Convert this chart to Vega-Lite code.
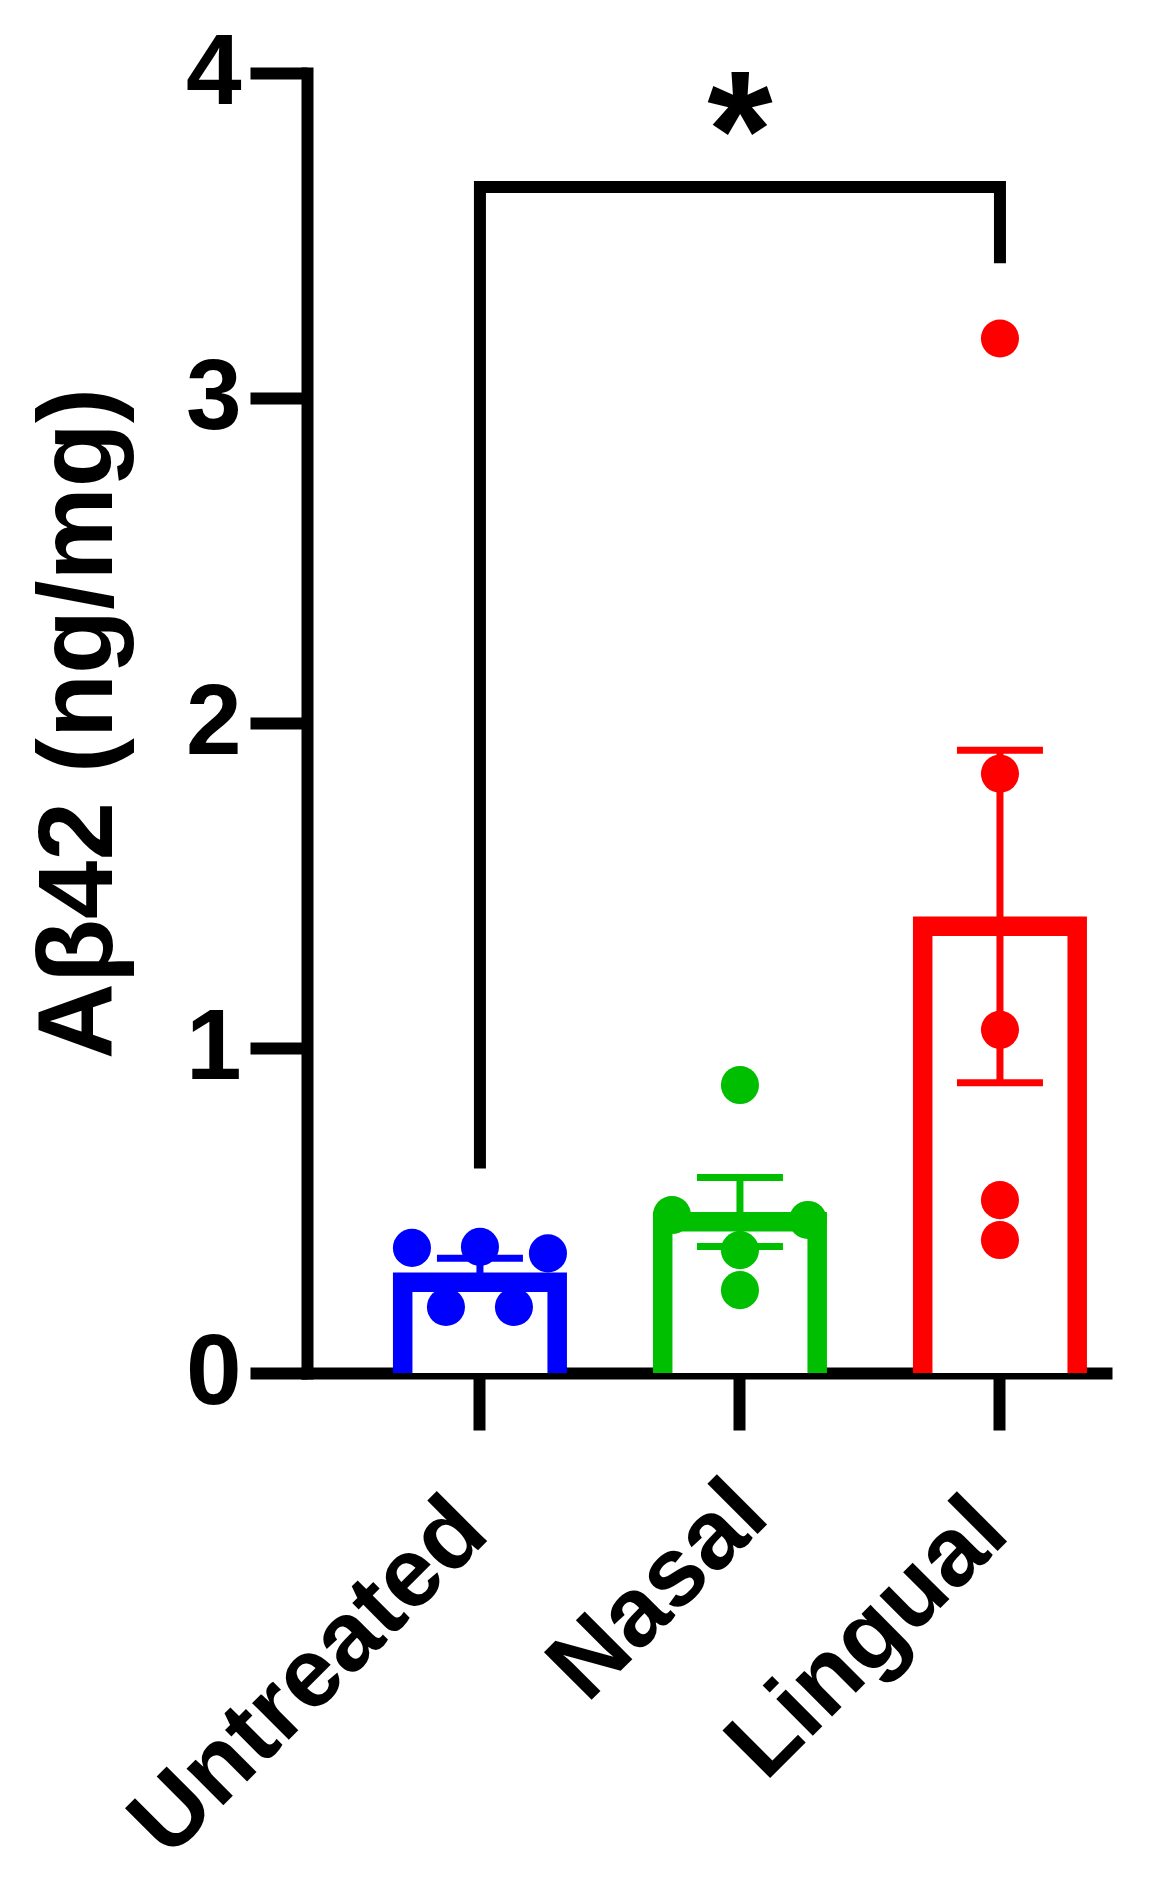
{
  "$schema": "https://vega.github.io/schema/vega-lite/v6.json",
  "width": 799,
  "height": 1300,
  "autosize": {"type": "none"},
  "padding": {"left": 307, "top": 73, "right": 54, "bottom": 519},
  "background": "white",
  "config": {
    "view": {"stroke": null},
    "font": "Liberation Sans",
    "axis": {
      "domainColor": "black",
      "domainWidth": 12,
      "domainCap": "square",
      "tickColor": "black",
      "tickWidth": 12,
      "tickSize": 57,
      "tickCap": "butt",
      "grid": false,
      "labelFont": "Liberation Sans",
      "labelFontWeight": "bold",
      "labelColor": "black",
      "titleFont": "Liberation Sans",
      "titleFontWeight": "bold",
      "titleColor": "black",
      "zindex": 1
    }
  },
  "datasets": {
    "mice": [
      {"group": "Untreated", "value": 0.385, "col": -2},
      {"group": "Untreated", "value": 0.388, "col": 0},
      {"group": "Untreated", "value": 0.368, "col": 2},
      {"group": "Untreated", "value": 0.203, "col": -1},
      {"group": "Untreated", "value": 0.203, "col": 1},
      {"group": "Nasal", "value": 0.886, "col": 0},
      {"group": "Nasal", "value": 0.486, "col": -2},
      {"group": "Nasal", "value": 0.471, "col": 2},
      {"group": "Nasal", "value": 0.378, "col": 0},
      {"group": "Nasal", "value": 0.255, "col": 0},
      {"group": "Lingual", "value": 3.183, "col": 0},
      {"group": "Lingual", "value": 1.844, "col": 0},
      {"group": "Lingual", "value": 1.056, "col": 0},
      {"group": "Lingual", "value": 0.532, "col": 0},
      {"group": "Lingual", "value": 0.409, "col": 0}
    ],
    "bracket": [
      {"group": "Untreated", "value": 0.629, "k": 1},
      {"group": "Untreated", "value": 3.649, "k": 2},
      {"group": "Lingual", "value": 3.649, "k": 3},
      {"group": "Lingual", "value": 3.415, "k": 4}
    ],
    "star": [
      {"group": "Nasal", "value": 3.645, "label": "*"}
    ]
  },
  "encoding": {
    "x": {
      "field": "group",
      "type": "nominal",
      "title": null,
      "scale": {
        "domain": ["Untreated", "Nasal", "Lingual"],
        "paddingInner": 0.4,
        "paddingOuter": 0.2365,
        "align": 0.772
      },
      "axis": {
        "labelAngle": -45,
        "labelAlign": "right",
        "labelBaseline": "alphabetic",
        "labelFontSize": 98,
        "labelLimit": 0,
        "labelOverlap": false,
        "labelPadding": {"condition": {"test": "datum.value === 'Nasal'", "value": 89}, "value": 106},
        "labelOffset": {"condition": {"test": "datum.value === 'Nasal'", "value": 32}, "value": 12}
      }
    }
  },
  "layer": [
    {
      "data": {"name": "mice"},
      "mark": {"type": "bar", "width": 174},
      "encoding": {
        "y": {
          "aggregate": "mean",
          "field": "value",
          "type": "quantitative",
          "title": "Aβ42 (ng/mg)",
          "scale": {"domain": [0, 4], "nice": false, "zero": true},
          "axis": {
            "values": [0, 1, 2, 3, 4],
            "format": "d",
            "labelFontSize": 100,
            "labelPadding": 9,
            "labelFlush": false,
            "titleFontSize": 105,
            "titlePadding": 52
          }
        },
        "color": {
          "field": "group",
          "type": "nominal",
          "legend": null,
          "scale": {"domain": ["Untreated", "Nasal", "Lingual"], "range": ["#0000FF", "#00BE00", "#FF0000"]}
        }
      }
    },
    {
      "data": {"name": "mice"},
      "mark": {"type": "bar", "width": 135, "yOffset": 19.5, "color": "white"},
      "encoding": {
        "y": {
          "aggregate": "mean",
          "field": "value",
          "type": "quantitative",
          "title": "Aβ42 (ng/mg)",
          "scale": {"domain": [0, 4], "nice": false, "zero": true}
        }
      }
    },
    {
      "data": {"name": "mice"},
      "mark": {"type": "point", "filled": true, "shape": "circle", "size": 1450, "opacity": 1},
      "encoding": {
        "xOffset": {"field": "col", "type": "quantitative", "scale": {"domain": [-2, 2], "range": [10, 146]}},
        "y": {
          "field": "value",
          "type": "quantitative",
          "title": "Aβ42 (ng/mg)",
          "scale": {"domain": [0, 4], "nice": false, "zero": true}
        },
        "color": {
          "field": "group",
          "type": "nominal",
          "legend": null,
          "scale": {"domain": ["Untreated", "Nasal", "Lingual"], "range": ["#0000FF", "#00BE00", "#FF0000"]}
        }
      }
    },
    {
      "data": {"name": "mice"},
      "mark": {"type": "errorbar", "extent": "stderr", "thickness": 7, "ticks": {"size": 86, "thickness": 7, "opacity": 1}, "rule": {"opacity": 1}},
      "encoding": {
        "y": {
          "field": "value",
          "type": "quantitative",
          "title": "Aβ42 (ng/mg)",
          "scale": {"domain": [0, 4], "nice": false, "zero": true}
        },
        "color": {
          "field": "group",
          "type": "nominal",
          "legend": null,
          "scale": {"domain": ["Untreated", "Nasal", "Lingual"], "range": ["#0000FF", "#00BE00", "#FF0000"]}
        }
      }
    },
    {
      "data": {"name": "bracket"},
      "mark": {"type": "line", "color": "black", "strokeWidth": 12, "strokeCap": "butt", "strokeJoin": "miter"},
      "encoding": {
        "y": {
          "field": "value",
          "type": "quantitative",
          "title": "Aβ42 (ng/mg)",
          "scale": {"domain": [0, 4], "nice": false, "zero": true}
        },
        "order": {"field": "k", "type": "quantitative"}
      }
    },
    {
      "data": {"name": "star"},
      "mark": {"type": "text", "fontSize": 168, "fontWeight": "bold", "font": "Liberation Sans", "color": "black", "align": "center", "baseline": "alphabetic"},
      "encoding": {
        "y": {
          "field": "value",
          "type": "quantitative",
          "title": "Aβ42 (ng/mg)",
          "scale": {"domain": [0, 4], "nice": false, "zero": true}
        },
        "text": {"field": "label"}
      }
    }
  ]
}
